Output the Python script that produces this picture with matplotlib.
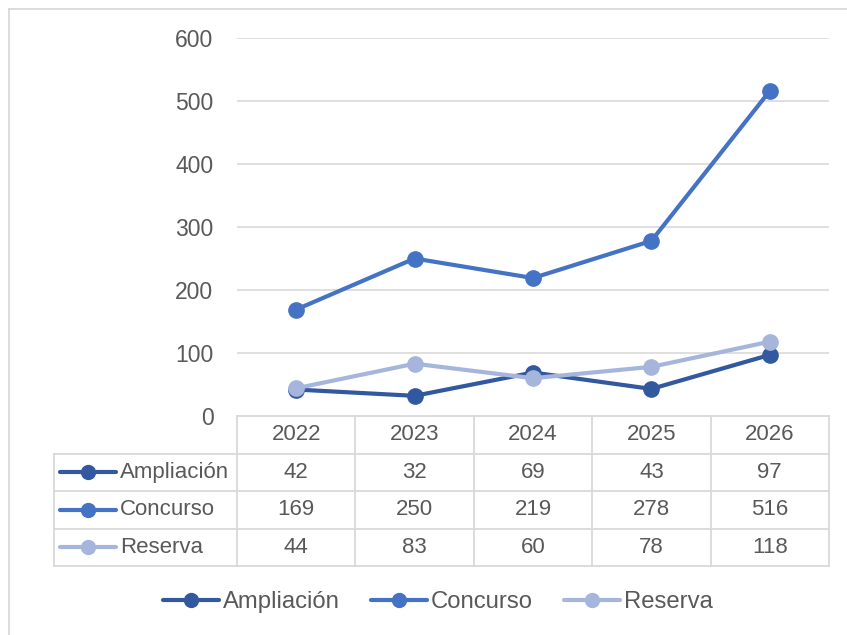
import matplotlib.pyplot as plt
from matplotlib.lines import Line2D
from matplotlib.transforms import blended_transform_factory

plt.rcParams['font.family'] = ['Liberation Sans', 'DejaVu Sans']

# datos
years = ['2022', '2023', '2024', '2025', '2026']
series_names = ['Ampliación', 'Concurso', 'Reserva']
ampliacion = [42, 32, 69, 43, 97]
concurso = [169, 250, 219, 278, 516]
reserva = [44, 83, 60, 78, 118]
series_values = [ampliacion, concurso, reserva]
colors = ['#3258A0', '#4472C4', '#A6B5DC']
yticks = [0, 100, 200, 300, 400, 500, 600]

txt = '#595959'
grid = '#D9D9D9'
W, H = 847, 635

fig = plt.figure(figsize=(W / 100, H / 100), dpi=100)

# marco exterior
fig.add_artist(Line2D([9 / W, 9 / W], [0, 1 - 9 / H], color=grid, lw=1.3))
fig.add_artist(Line2D([9 / W, 1], [1 - 9 / H, 1 - 9 / H], color=grid, lw=1.3))

ax = fig.add_axes([237 / W, (H - 416) / H, 592 / W, 378 / H])
x = list(range(len(years)))
for name, vals, col in zip(series_names, series_values, colors):
    ax.plot(x, vals, color=col, lw=3.0, marker='o', ms=11, label=name,
            solid_capstyle='round', clip_on=False, zorder=3)

ax.set_xlim(-0.5, len(years) - 0.5)
ax.set_ylim(0, 600)
ax.set_yticks(yticks)
ax.set_yticklabels([str(v) for v in yticks], fontsize=16.5, color=txt)
ax.tick_params(axis='y', length=0, pad=17)
ax.set_xticks([])
for v in yticks[1:]:
    ax.axhline(v, color=grid, lw=1.2, zorder=1)
for s in ax.spines.values():
    s.set_visible(False)

# tabla de datos
tr = blended_transform_factory(ax.transData, ax.transAxes)
row_h = 37.5 / 378
px = 1 / 118.4  # un pixel en unidades de categoria
left = -0.5 - 183 * px
n_rows = len(series_names) + 1
bottom = -n_rows * row_h

ax.plot([-0.5, 4.5], [0, 0], color=grid, lw=1.3, transform=tr, clip_on=False)
for r in range(1, n_rows + 1):
    ax.plot([left, 4.5], [-r * row_h, -r * row_h], color=grid, lw=1.3,
            transform=tr, clip_on=False)
for i in range(len(years) + 1):
    ax.plot([i - 0.5, i - 0.5], [0, bottom], color=grid, lw=1.3,
            transform=tr, clip_on=False)
ax.plot([left, left], [-row_h, bottom], color=grid, lw=1.3,
        transform=tr, clip_on=False)

for i, yr in enumerate(years):
    ax.text(i, -0.5 * row_h, yr, transform=tr, ha='center', va='center',
            fontsize=16, color=txt)

for r, (name, vals, col) in enumerate(zip(series_names, series_values, colors)):
    yc = -(r + 1.5) * row_h
    x0 = left + 6 * px
    x1 = left + 62 * px
    ax.plot([x0, x1], [yc, yc], color=col, lw=3.0, solid_capstyle='round',
            transform=tr, clip_on=False)
    ax.plot([(x0 + x1) / 2], [yc], color=col, marker='o', ms=10,
            transform=tr, clip_on=False)
    ax.text(left + 66 * px, yc, name, transform=tr, ha='left', va='center',
            fontsize=16, color=txt)
    for i, v in enumerate(vals):
        ax.text(i, yc, str(v), transform=tr, ha='center', va='center',
                fontsize=16, color=txt)

# leyenda
handles = [Line2D([0], [0], color=c, lw=3.0, marker='o', ms=10,
                  solid_capstyle='round') for c in colors]
fig.legend(handles, series_names, loc='center', bbox_to_anchor=(438 / W, 1 - 602 / H),
           ncol=3, frameon=False, fontsize=17.2, handlelength=2.35,
           handletextpad=0.17, columnspacing=1.3, labelcolor=txt)

fig.savefig('out.png', dpi=100)
